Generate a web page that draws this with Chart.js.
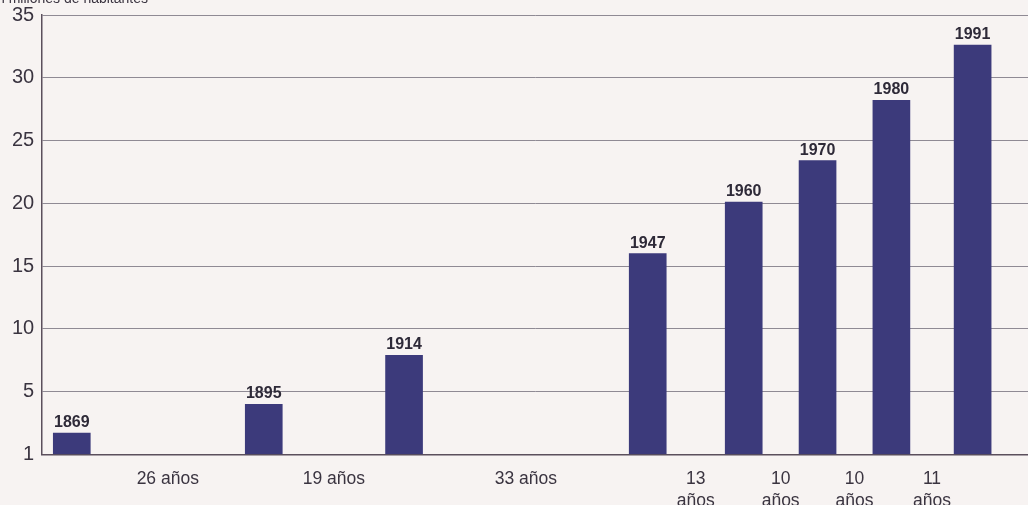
<!DOCTYPE html>
<html>
<head>
<meta charset="utf-8">
<script src="https://cdn.jsdelivr.net/npm/chart.js@4/dist/chart.umd.min.js"></script>
<style>
    html, body { margin: 0; padding: 0; background: #f7f3f2; overflow: hidden; }
    #wrap { width: 1028px; height: 505px; position: relative; }
</style>
</head>
<body>
<div id="wrap"><canvas id="popChart"></canvas></div>
<script>
// Census years and population (millions)
const censusYears = [1869, 1895, 1914, 1947, 1960, 1970, 1980, 1991];
const population = [1.7, 4.0, 7.9, 16.0, 20.1, 23.4, 28.2, 32.6];

// Labels for the gaps between censuses (drawn between bars)
const gapLabels = ['26 años', '19 años', '33 años', ['13', 'años'], ['10', 'años'], ['10', 'años'], ['11', 'años']];

// Y ticks: bottom line is printed as "1" in the original
const yTickValues = [0, 5, 10, 15, 20, 25, 30, 35];
const yTickLabels = ['1', '5', '10', '15', '20', '25', '30', '35'];

const unitLabel = 'En millones de habitantes';

const FONT = "'Liberation Sans', Arial, Helvetica, sans-serif";
const BAR_COLOR = '#3c3a7b';
const TEXT_COLOR = '#3a3440';

// Midpoints between census years, used as x tick positions for the gap labels
const gapMidpoints = censusYears.slice(1).map((y, i) => (y + censusYears[i]) / 2);

// Draws the year over each bar and the cut-off unit text at the top left
const barLabels = {
    id: 'barLabels',
    afterDatasetsDraw(chart) {
        const { ctx } = chart;
        const meta = chart.getDatasetMeta(0);
        ctx.save();
        ctx.fillStyle = '#2e2a38';
        ctx.font = `bold 16px ${FONT}`;
        ctx.textAlign = 'center';
        ctx.textBaseline = 'alphabetic';
        meta.data.forEach((bar, i) => {
            ctx.fillText(String(censusYears[i]), bar.x, bar.y - 6);
        });

        ctx.font = `14px ${FONT}`;
        ctx.fillStyle = TEXT_COLOR;
        ctx.textAlign = 'right';
        ctx.fillText(unitLabel, 148, 3);
        ctx.restore();
    }
};

new Chart(document.getElementById('popChart'), {
    type: 'bar',
    data: {
        datasets: [{
            data: censusYears.map((yr, i) => ({ x: yr, y: population[i] })),
            backgroundColor: BAR_COLOR,
            borderColor: '#4a2f4e',
            borderWidth: { bottom: 1, left: 0, right: 0, top: 0 },
            barThickness: 37
        }]
    },
    options: {
        responsive: true,
        maintainAspectRatio: false,
        animation: false,
        layout: { padding: { top: 15, right: 0, left: 4, bottom: -21 } },
        plugins: {
            legend: { display: false },
            tooltip: { enabled: false }
        },
        scales: {
            x: {
                type: 'linear',
                min: 1865,
                max: 1998.5,
                offset: false,
                grid: { display: false, drawTicks: false },
                border: { display: true, color: '#5b4f5c', width: 1.5 },
                afterBuildTicks: (axis) => {
                    axis.ticks = gapMidpoints.map(v => ({ value: v }));
                },
                ticks: {
                    autoSkip: false,
                    maxRotation: 0,
                    padding: 13,
                    color: TEXT_COLOR,
                    font: { family: FONT, size: 17.5, lineHeight: 1.3 },
                    callback: (value, index) => gapLabels[index]
                }
            },
            y: {
                min: 0,
                max: 35,
                afterBuildTicks: (axis) => {
                    axis.ticks = yTickValues.map(v => ({ value: v }));
                },
                // let the top label overhang the canvas edge as in the original
                afterFit: (axis) => { axis.paddingTop = 0; },
                grid: { color: '#8f8a94', lineWidth: 1, drawTicks: false },
                border: { display: true, color: '#5b4f5c', width: 1.5 },
                ticks: {
                    padding: 8,
                    color: TEXT_COLOR,
                    font: { family: FONT, size: 20 },
                    callback: (value, index) => yTickLabels[index]
                }
            }
        }
    },
    plugins: [barLabels]
});
</script>
</body>
</html>
